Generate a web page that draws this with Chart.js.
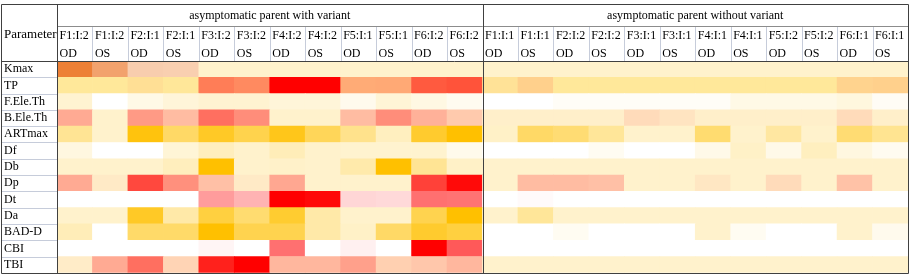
<!DOCTYPE html>
<html>
<head>
<meta charset="utf-8">
<script src="https://cdn.jsdelivr.net/npm/chart.js@4.4.1/dist/chart.umd.min.js"></script>
<style>
  body { margin: 0; background: #ffffff; }
  #wrap { width: 913px; height: 280px; }
</style>
</head>
<body>
<div id="wrap"><canvas id="heatTable"></canvas></div>
<script>
// headings
const cornerTitle = "Parameter";
const groups = ["asymptomatic parent with variant", "asymptomatic parent without variant"];
const subjects = ["F1:I:2", "F1:I:2", "F2:I:1", "F2:I:1", "F3:I:2", "F3:I:2", "F4:I:2", "F4:I:2", "F5:I:1", "F5:I:1", "F6:I:2", "F6:I:2",
                  "F1:I:1", "F1:I:1", "F2:I:2", "F2:I:2", "F3:I:1", "F3:I:1", "F4:I:1", "F4:I:1", "F5:I:2", "F5:I:2", "F6:I:1", "F6:I:1"];
const eyes = ["OD", "OS", "OD", "OS", "OD", "OS", "OD", "OS", "OD", "OS", "OD", "OS",
              "OD", "OS", "OD", "OS", "OD", "OS", "OD", "OS", "OD", "OS", "OD", "OS"];
const params = ["Kmax", "TP", "F.Ele.Th", "B.Ele.Th", "ARTmax", "Df", "Db", "Dp", "Dt", "Da", "BAD-D", "CBI", "TBI"];

// heat level of every cell (0 = lowest, 1 = highest), one list per parameter
const kmax   = [0.98, 0.76, 0.48, 0.45, 0, 0, 0, 0, 0, 0, 0, 0,   0, 0, 0, 0, 0, 0, 0, 0, 0, 0, 0, 0];
const tp     = [0.02, 0.02, 0.08, 0.03, 0.61, 0.57, 1, 1, 0.43, 0.44, 0.72, 0.74,   0.06, 0.18, 0.02, 0.02, 0.02, 0.02, 0.02, 0.02, 0.02, 0.02, 0.16, 0.18];
const fEleTh = [0.18, 0, 0.1, 0.15, 0.18, 0.18, 0.15, 0.15, 0.07, 0.16, 0.11, 0.06,   0, 0, 0.03, 0.03, 0.03, 0.03, 0.03, 0.1, 0.1, 0.1, 0.13, 0.04];
const bEleTh = [0.48, 0, 0.53, 0.39, 0.66, 0.57, 0, 0, 0.39, 0.57, 0.46, 0.29,   0.02, 0.02, 0.02, 0.02, 0.17, 0.1, 0.02, 0.02, 0.02, 0.02, 0.17, 0.02];
const artMax = [0.42, 0.2, 0.95, 0.6, 0.85, 0.7, 0.9, 0.65, 0.45, 0.25, 0.82, 1,   0.22, 0.6, 0.55, 0.4, 0.2, 0.2, 0.56, 0.2, 0.37, 0.2, 0.55, 0.43];
const df     = [0.12, 0, 0, 0.16, 0.26, 0.2, 0.28, 0.2, 0.19, 0.19, 0.19, 0.08,   0, 0, 0, 0.05, 0, 0, 0.09, 0.22, 0.09, 0.25, 0.12, 0.06];
const db     = [0.2, 0.2, 0.2, 0.26, 1, 0.2, 0.21, 0.2, 0.33, 1, 0.42, 0.22,   0.2, 0.2, 0.2, 0.2, 0.2, 0.2, 0.2, 0.2, 0.2, 0.2, 0.2, 0.2];
const dp     = [0.48, 0.06, 0.78, 0.56, 0.36, 0.06, 0.49, 0, 0, 0, 0.8, 0.97,   0, 0.39, 0.39, 0.36, 0, 0, 0.08, 0, 0.17, 0, 0.35, 0];
const dt     = [0, 0, 0, 0, 0.39, 0.3, 1, 0.97, 0.16, 0.15, 0.56, 0.55,   0, 0.02, 0, 0, 0, 0, 0, 0, 0, 0, 0, 0];
const da     = [0.2, 0.2, 0.85, 0.34, 0.75, 0.56, 0.81, 0.34, 0.2, 0.2, 0.69, 1,   0.2, 0.4, 0.2, 0.2, 0.2, 0.2, 0.2, 0.2, 0.2, 0.2, 0.2, 0.2];
const badD   = [0.28, 0, 0.59, 0.59, 1, 0.69, 0.69, 0.34, 0.22, 0.6, 0.82, 0.75,   0, 0, 0.05, 0, 0, 0, 0.2, 0.05, 0, 0, 0.2, 0.07];
const cbi    = [0, 0, 0, 0, 0.04, 0, 0.56, 0, 0.06, 0, 1, 0.65,   0, 0, 0, 0, 0, 0, 0, 0, 0, 0, 0, 0];
const tbi    = [0.04, 0.48, 0.66, 0.22, 0.9, 1, 0.43, 0.43, 0.51, 0.25, 0.31, 0.43,   0, 0, 0, 0, 0, 0, 0, 0, 0, 0, 0, 0];

const rows = [kmax, tp, fEleTh, bEleTh, artMax, df, db, dp, dt, da, badD, cbi, tbi];

// colour scales (like the spreadsheet's conditional formatting)
const scales = {
    orange:    [[0, "#FFF2CC"], [0.5, "#F8CBAD"], [1, "#ED7D31"]],
    yellowRed: [[0, "#FFEB9C"], [0.5, "#FFA070"], [1, "#FF0000"]],
    gold:      [[0, "#FFFFFF"], [0.2, "#FFF2CC"], [1, "#FFC000"]],
    creamRed:  [[0, "#FFF2CC"], [0.45, "#FFB49C"], [1, "#FF0000"]],
    whiteRed:  [[0, "#FFFFFF"], [1, "#FF0000"]]
};
const rowScale = ["orange", "yellowRed", "gold", "creamRed", "gold", "gold", "gold",
                  "creamRed", "whiteRed", "gold", "gold", "whiteRed", "creamRed"];

function hexRgb(h) {
    return [parseInt(h.slice(1, 3), 16), parseInt(h.slice(3, 5), 16), parseInt(h.slice(5, 7), 16)];
}

function heatColor(v, stops) {
    for (let i = 0; i < stops.length - 1; i++) {
        const [p0, c0] = stops[i];
        const [p1, c1] = stops[i + 1];
        if (v <= p1 || i === stops.length - 2) {
            const t = Math.max(0, Math.min(1, (v - p0) / (p1 - p0)));
            const a = hexRgb(c0), b = hexRgb(c1);
            const m = a.map((x, k) => Math.round(x + (b[k] - x) * t));
            return `rgb(${m[0]},${m[1]},${m[2]})`;
        }
    }
}

// one floating bar per cell
const cells = [];
rows.forEach((vals, r) => {
    vals.forEach((v, c) => {
        cells.push({ x: [c, c + 1], y: params[r], v: v, s: rowScale[r] });
    });
});

const serif = "'Liberation Serif', 'Times New Roman', serif";

// table rules and the corner heading
const tableLines = {
    id: "tableLines",
    afterDraw(chart) {
        const { ctx, chartArea: a, scales: { x, x2, y } } = chart;
        const left = 1, top = 4, right = Math.round(a.right), bottom = Math.round(a.bottom);
        const band = y.getPixelForValue(1) - y.getPixelForValue(0);
        const px = v => Math.round(v) + 0.5;

        ctx.save();
        ctx.lineWidth = 1;

        // light row rules in the parameter column
        ctx.strokeStyle = "#C6CCDA";
        ctx.beginPath();
        for (let i = 1; i < params.length; i++) {
            const yy = px(y.getPixelForValue(i) - band / 2);
            ctx.moveTo(left, yy);
            ctx.lineTo(a.left, yy);
        }
        // light column rules in the sub-header
        for (let c = 1; c < subjects.length; c++) {
            if (c === 12) continue;
            const xx = px(x.getPixelForValue(c));
            ctx.moveTo(xx, x2.bottom);
            ctx.lineTo(xx, a.top);
        }
        ctx.stroke();

        // rule under the group titles
        ctx.strokeStyle = "#8C8C8C";
        ctx.beginPath();
        ctx.moveTo(a.left, px(x2.bottom));
        ctx.lineTo(right, px(x2.bottom));
        ctx.stroke();

        // dark frame
        ctx.strokeStyle = "#404040";
        ctx.beginPath();
        ctx.rect(left + 0.5, top + 0.5, right - left, bottom - top);
        ctx.moveTo(px(a.left), top);
        ctx.lineTo(px(a.left), bottom);
        ctx.moveTo(px(x.getPixelForValue(12)), top);
        ctx.lineTo(px(x.getPixelForValue(12)), bottom);
        ctx.moveTo(left, px(a.top));
        ctx.lineTo(right, px(a.top));
        ctx.stroke();

        ctx.fillStyle = "#000000";
        ctx.font = "13px " + serif;
        ctx.textBaseline = "middle";
        ctx.textAlign = "left";
        ctx.fillText(cornerTitle, 4, 35);
        ctx.restore();
    }
};

new Chart(document.getElementById("heatTable"), {
    type: "bar",
    data: {
        labels: params,
        datasets: [{
            data: cells,
            backgroundColor: ctx => ctx.raw ? heatColor(ctx.raw.v, scales[ctx.raw.s]) : "transparent",
            borderWidth: 0,
            barPercentage: 1,
            categoryPercentage: 1
        }]
    },
    options: {
        indexAxis: "y",
        responsive: true,
        maintainAspectRatio: false,
        animation: false,
        layout: { padding: { left: 4, right: 5, top: 4, bottom: 3 } },
        plugins: {
            legend: { display: false },
            tooltip: { enabled: false }
        },
        scales: {
            y: {
                type: "category",
                position: "left",
                grid: { display: false, drawTicks: false },
                border: { display: false },
                afterFit: axis => { axis.width = 53; },
                ticks: {
                    autoSkip: false,
                    crossAlign: "far",
                    padding: 0,
                    color: "#000000",
                    font: { family: serif, size: 12 }
                }
            },
            x: {
                type: "linear",
                position: "top",
                weight: 0,
                min: 0,
                max: subjects.length,
                grid: { display: false, drawTicks: false },
                border: { display: false },
                afterFit: axis => { axis.height = 35; },
                afterBuildTicks: axis => {
                    axis.ticks = subjects.map((s, i) => ({ value: i + 0.07 }));
                },
                ticks: {
                    autoSkip: false,
                    maxRotation: 0,
                    align: "start",
                    padding: -2,
                    color: "#000000",
                    font: { family: serif, size: 12, lineHeight: 1.5 },
                    callback: (value, index) => [subjects[index], eyes[index]]
                }
            },
            x2: {
                type: "linear",
                position: "top",
                weight: 1,
                min: 0,
                max: subjects.length,
                grid: { display: false, drawTicks: false },
                border: { display: false },
                afterFit: axis => { axis.height = 22; },
                afterBuildTicks: axis => {
                    axis.ticks = groups.map((g, i) => ({ value: 6 + i * 12 }));
                },
                ticks: {
                    autoSkip: false,
                    maxRotation: 0,
                    padding: 3,
                    color: "#000000",
                    font: { family: serif, size: 12 },
                    callback: (value, index) => groups[index]
                }
            }
        }
    },
    plugins: [tableLines]
});
</script>
</body>
</html>
